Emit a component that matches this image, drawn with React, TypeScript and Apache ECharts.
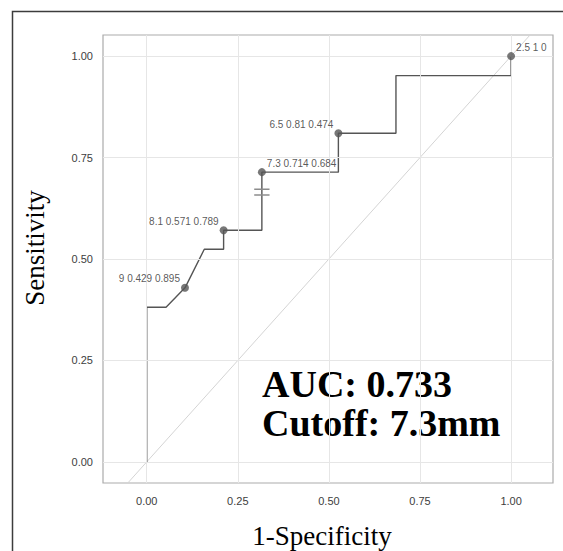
import React, { useEffect, useRef } from "react";
import * as echarts from "echarts";

// ROC curve vertices (1-specificity, sensitivity)
const rocFpr = [0, 0, 0.053, 0.105, 0.158, 0.211, 0.211, 0.316, 0.316, 0.526, 0.526, 0.684, 0.684, 1, 1];
const rocTpr = [0, 0.381, 0.381, 0.429, 0.524, 0.524, 0.571, 0.571, 0.714, 0.714, 0.81, 0.81, 0.952, 0.952, 1];

// labelled cut-off points
const cutoffValues = ["9", "8.1", "7.3", "6.5", "2.5"];
const cutoffFpr = [0.105, 0.211, 0.316, 0.526, 1];
const cutoffSens = [0.429, 0.571, 0.714, 0.81, 1];
const cutoffSpec = [0.895, 0.789, 0.684, 0.474, 0];

// "=" marker on the curve at the chosen cut-off
const markFpr = [0.295, 0.337];
const markSens = [0.658, 0.672];

// reference diagonal
const diagonal = [-0.052, 1.052];

const tickValues = [0, 0.25, 0.5, 0.75, 1];
const xTitle = "1-Specificity";
const yTitle = "Sensitivity";
const annotationLines = ["AUC: 0.733", "Cutoff: 7.3mm"];

export default function App() {
  const ref = useRef<HTMLDivElement>(null);

  useEffect(() => {
    if (!ref.current) return;
    const chart = echarts.init(ref.current, undefined, { renderer: "svg" });

    const labelOnRight = (v: string) => v === "7.3" || v === "2.5";
    const sansFont = "Liberation Sans";
    const serifFont = "Liberation Serif";

    const curve = rocFpr.map((x, i) => [x, rocTpr[i]]);
    const points = cutoffValues.map((c, i) => ({
      value: [cutoffFpr[i], cutoffSens[i]],
      name: `${c} ${cutoffSens[i]} ${cutoffSpec[i]}`,
      label: { position: labelOnRight(c) ? "right" : "left" },
    }));

    const axisLabelStyle = {
      color: "#3d3d3d",
      fontSize: 11,
      fontFamily: sansFont,
      formatter: (v: number) => v.toFixed(2),
      customValues: tickValues,
    };

    const option: any = {
      animation: false,
      grid: {
        left: 103,
        top: 35,
        width: 450,
        height: 448,
        show: true,
        borderColor: "#ababab",
        borderWidth: 1.2,
        backgroundColor: "#ffffff",
        outerBoundsMode: "none",
      },
      xAxis: {
        type: "value",
        min: -0.12,
        max: 1.115,
        axisLine: { show: false },
        axisTick: { show: true, length: 5, customValues: tickValues, lineStyle: { color: "#9a9a9a" } },
        axisLabel: { ...axisLabelStyle, margin: 12 },
        splitLine: { show: false },
      },
      yAxis: {
        type: "value",
        min: -0.052,
        max: 1.052,
        axisLine: { show: false },
        axisTick: { show: true, length: 5, customValues: tickValues, lineStyle: { color: "#9a9a9a" } },
        axisLabel: { ...axisLabelStyle, margin: 10 },
        splitLine: { show: false },
      },
      series: [
        {
          type: "line",
          data: [],
          z: 1,
          silent: true,
          markLine: {
            silent: true,
            symbol: "none",
            label: { show: false },
            lineStyle: { color: "#e6e6e6", width: 1, type: "solid" },
            data: [
              ...tickValues.map((v) => ({ xAxis: v })),
              ...tickValues.map((v) => ({ yAxis: v })),
            ],
          },
        },
        {
          type: "line",
          data: [
            [diagonal[0], diagonal[0]],
            [diagonal[1], diagonal[1]],
          ],
          showSymbol: false,
          silent: true,
          z: 2,
          lineStyle: { color: "#d4d4d4", width: 1 },
        },
        {
          type: "line",
          data: curve,
          showSymbol: false,
          silent: true,
          z: 3,
          lineStyle: { color: "#555555", width: 1.4 },
        },
        ...markSens.map((s) => ({
          type: "line",
          data: [
            [markFpr[0], s],
            [markFpr[1], s],
          ],
          showSymbol: false,
          silent: true,
          z: 4,
          lineStyle: { color: "#8c8c8c", width: 1.5 },
        })),
        {
          type: "scatter",
          data: points,
          symbol: "circle",
          symbolSize: 8,
          z: 5,
          silent: true,
          itemStyle: { color: "#555555" },
          label: {
            show: true,
            formatter: (p: any) => p.name,
            distance: 1,
            offset: [0, -9],
            color: "#2e2e2e",
            fontSize: 10,
            fontFamily: sansFont,
          },
        },
      ],
      graphic: [
        {
          type: "polyline",
          shape: { points: [[12.5, 560], [12.5, 11.5], [570, 11.5]] },
          style: { stroke: "#3c3c3c", lineWidth: 1.5, fill: "none" },
          silent: true,
        },
        {
          type: "text",
          x: 322,
          y: 536,
          style: {
            text: xTitle,
            font: `27px "${serifFont}"`,
            fill: "#000000",
            align: "center",
            verticalAlign: "middle",
          },
        },
        {
          type: "text",
          x: 35,
          y: 248,
          rotation: Math.PI / 2,
          style: {
            text: yTitle,
            font: `27px "${serifFont}"`,
            fill: "#000000",
            align: "center",
            verticalAlign: "middle",
          },
        },
        {
          type: "text",
          x: 262,
          y: 364,
          style: {
            text: annotationLines.join("\n"),
            font: `bold 38px "${serifFont}"`,
            lineHeight: 39,
            fill: "#000000",
            align: "left",
            verticalAlign: "top",
          },
        },
      ],
    };

    chart.setOption(option);
    return () => chart.dispose();
  }, []);

  return (
    <div
      ref={ref}
      style={{ position: "fixed", left: 0, top: 0, width: 563, height: 551, background: "#ffffff" }}
    />
  );
}
